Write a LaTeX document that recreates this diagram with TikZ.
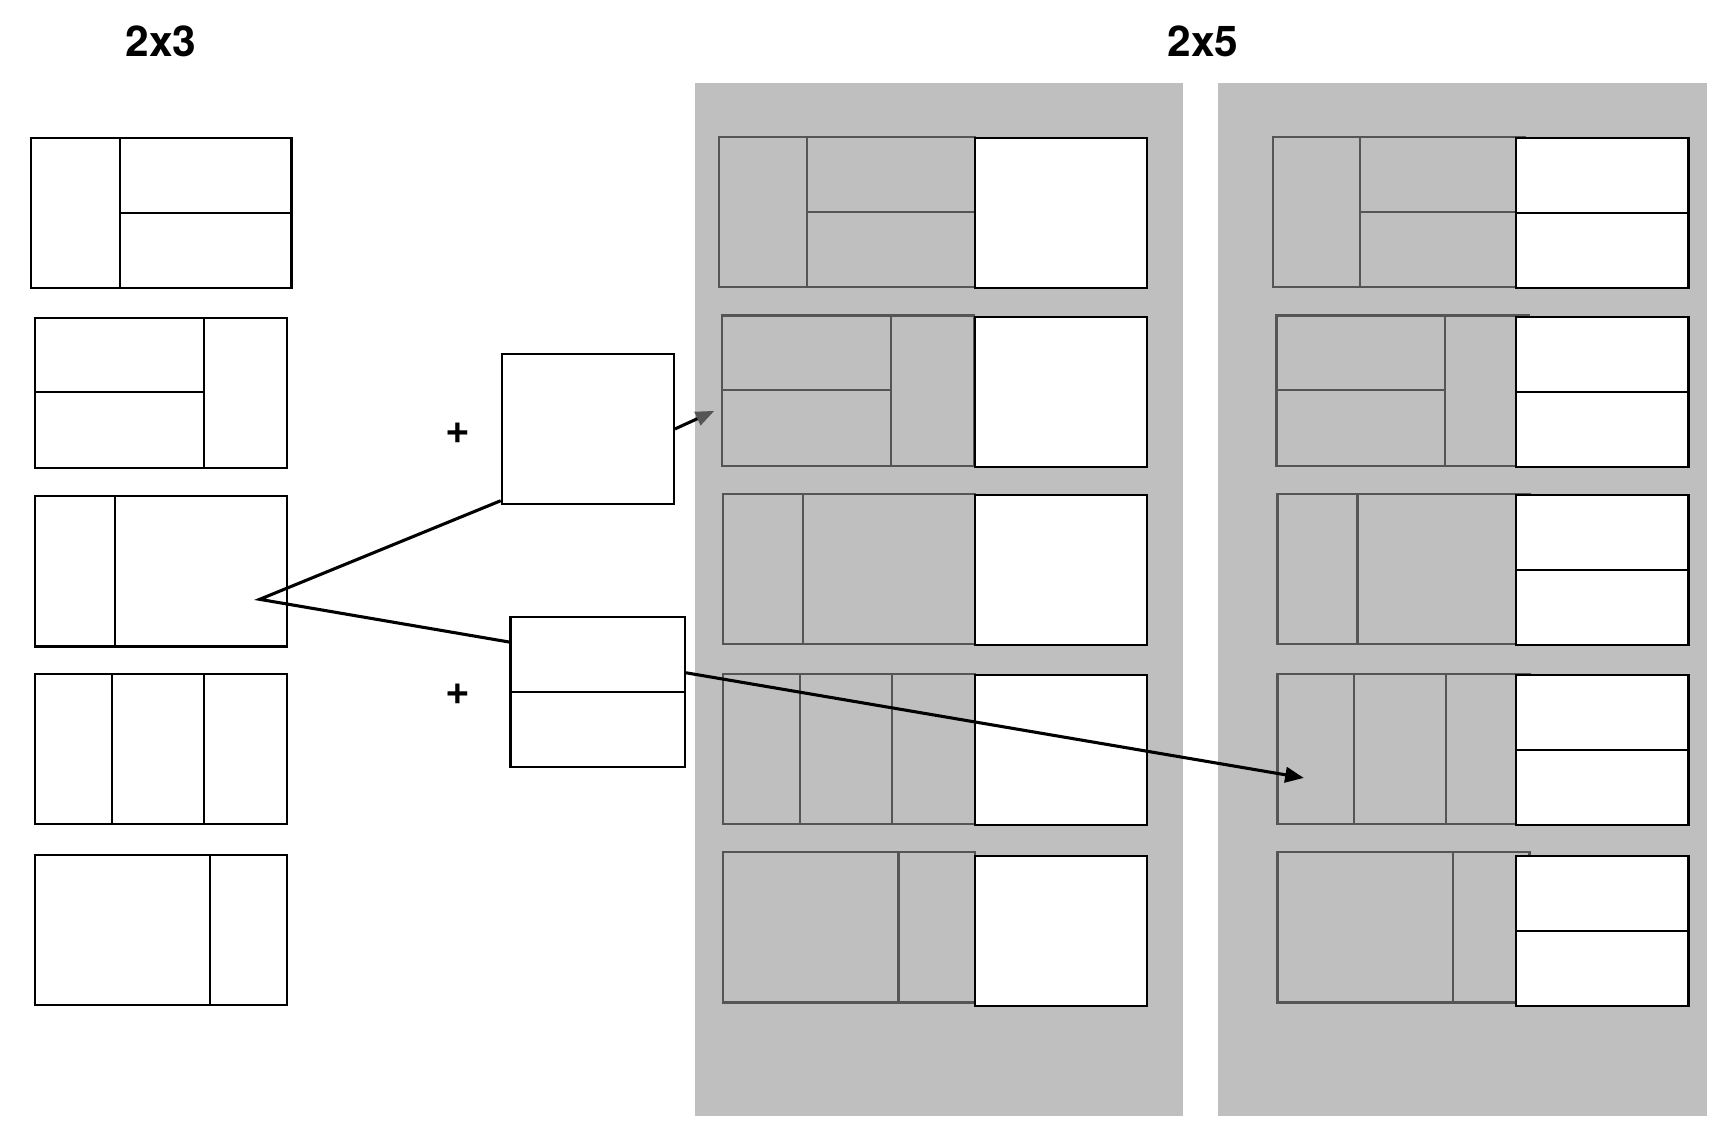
\documentclass[tikz,border=0pt]{standalone}
\usepackage{fontspec}
\setmainfont{TeX Gyre Heros}
\usepackage{tikz}
\usetikzlibrary{positioning,arrows.meta}
\definecolor{panelgray}{HTML}{BFBFBF}
\definecolor{cellgray}{HTML}{555555}
\tikzset{
  panel/.style={fill=panelgray, draw=none},
  tile/.style={draw, fill=white, line width=0.55pt, inner sep=0pt, anchor=north west,
               minimum width=1.57cm, minimum height=1.37cm},
  tileedge/.style={draw=black, fill=white, line width=0.55pt},
  celledge/.style={draw=cellgray, line width=0.55pt},
  heading/.style={font=\fontsize{11pt}{13pt}\selectfont\bfseries, inner sep=0pt},
  link/.style={line width=0.8pt},
  fwd/.style={link, -{Triangle[length=0.17cm, width=0.14cm]}},
  fwdgray/.style={link, -{Triangle[length=0.17cm, width=0.13cm, color=cellgray]}},
  pics/lay1/.style={code={\draw[pic actions] (0,0) rectangle (230,137) (79,0) -- (79,137) (79,68.5) -- (230,68.5);}},
  pics/lay2/.style={code={\draw[pic actions] (0,0) rectangle (230,137) (154,0) -- (154,137) (0,68) -- (154,68);}},
  pics/lay3/.style={code={\draw[pic actions] (0,0) rectangle (230,137) (73,0) -- (73,137);}},
  pics/lay4/.style={code={\draw[pic actions] (0,0) rectangle (230,137) (70,0) -- (70,137) (154,0) -- (154,137);}},
  pics/lay5/.style={code={\draw[pic actions] (0,0) rectangle (230,137) (160,0) -- (160,137);}},
}

\begin{document}
\begin{tikzpicture}[x=0.01cm, y=-0.01cm]
  \useasboundingbox (0,0) rectangle (1568,1039);

  % titles
  \node[heading] (title1) at (147,38) {2x3};
  \node[heading] (title2) at (1098,38) {2x5};

  % the five 2x3 layouts
  \begin{scope}[shift={(28,126)}, x=0.01035cm]
    \pic[tileedge] {lay1};
  \end{scope}
  \pic[tileedge] at (32,290) {lay2};
  \pic[tileedge] at (32,453) {lay3};
  \pic[tileedge] at (32,615) {lay4};
  \pic[tileedge] at (32,780) {lay5};

  % the two 2x5 panels
  \fill[panel] (634,76) rectangle (1080,1019);
  \fill[panel] (1112,76) rectangle (1558,1019);
  \foreach \lay/\xg/\yg/\yt/\wx [count=\i] in {lay1/656/125/125/0.01015cm, lay2/659/288/288/0.01cm,
      lay3/660/451/451/0.01cm, lay4/660/615/615/0.01cm, lay5/660/778/780/0.01cm}{
    \begin{scope}[shift={(\xg,\yg)}, x=\wx]
      \pic[celledge] {\lay};
    \end{scope}
    \begin{scope}[shift={(\xg+506,\yg)}]
      \pic[celledge] {\lay};
    \end{scope}
    \node[tile] (mid\i) at (889,\yt) {};
    \node[tile] (right\i) at (1383,\yt) {};
    \draw[tileedge] (right\i.west) -- (right\i.east);
  }

  % added columns
  \node[heading] (plus1) at (418,395) {+};
  \node[tile] (single) at (457,322) {};
  \node[heading] (plus2) at (418,634) {+};
  \node[tile, minimum width=1.59cm] (pair) at (465,562) {};
  \draw[tileedge] (pair.west) -- (pair.east);

  \coordinate (fork) at (237,547);
  \coordinate (tip1) at (652,375);
  \coordinate (tip2) at (1190,710);
  \draw[link] ([yshift=0.04cm]single.south west) -- (fork) -- ([yshift=-0.24cm]pair.north west);
  \draw[fwdgray] (single.east) -- (tip1);
  \draw[fwd] ([yshift=-0.52cm]pair.north east) -- (tip2);
\end{tikzpicture}
\end{document}
